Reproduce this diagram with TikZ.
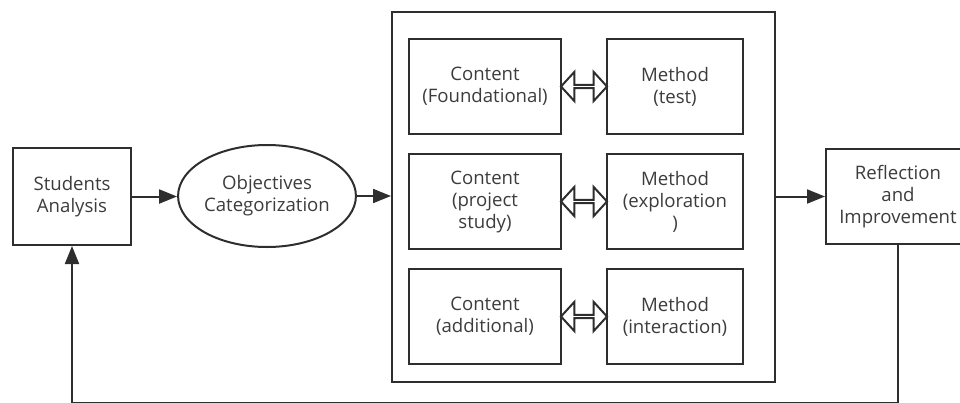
\documentclass[tikz,border=0pt]{standalone}
\usepackage{fontspec}
\setmainfont{Open Sans}
\usetikzlibrary{arrows.meta,shapes,calc,positioning}
\definecolor{ink}{HTML}{2E2E2E}
\definecolor{txt}{HTML}{3C3C3C}

\begin{document}
\begin{tikzpicture}[x=1pt,y=-1pt]
	\tikzstyle{every node}=[font=\fontsize{18.6}{22}\selectfont, text=txt]
	\tikzstyle{block}=[draw=ink, line width=2pt, align=center, inner sep=0pt]
	\tikzstyle{content}=[block, minimum width=152pt, minimum height=95pt]
	\tikzstyle{method}=[block, minimum width=136pt, minimum height=95pt]
	\tikzstyle{goal}=[block, ellipse, minimum width=166pt, minimum height=102pt]
	\tikzstyle{link}=[draw=ink, line width=2pt, -{Triangle[length=18pt,width=14pt]}]
	\tikzstyle{twoway}=[draw=ink, line width=2pt, double arrow, double arrow head extend=8.5pt, double arrow tip angle=95, minimum width=29pt, minimum height=46pt, inner sep=0pt]

	\useasboundingbox (0,0) rectangle (960,402);
	\clip (0,0) rectangle (960,402);

	\node [block, minimum width=118pt, minimum height=97pt] (students) at (72,196.5) {Students\\Analysis};
	\node [goal] (objectives) at (267,196) {Objectives\\Categorization};
	\node [block, minimum width=383pt, minimum height=370pt] (plan) at (583.5,197) {};

	\node [content] (C1) at (485,86.5) {Content\\(Foundational)};
	\node [content] (C2) [below of=C1, node distance=115pt] {Content\\(project\\study)};
	\node [content] (C3) [below of=C2, node distance=115pt] {Content\\(additional)};
	\node [method] (M1) [right of=C1, node distance=190pt] {Method\\(test)};
	\node [method] (M2) [right of=C2, node distance=190pt] {Method\\(exploration\\)};
	\node [method] (M3) [right of=C3, node distance=190pt] {Method\\(interaction)};

	\foreach \i in {1,2,3}
		\node [twoway] (A\i) at ($(C\i.east)!0.5!(M\i.west)$) {};

	\node [block, minimum width=144pt, minimum height=95pt] (reflect) at (898,196.5) {Reflection\\and\\Improvement};

	\draw [link] (students.east) -- (students.east -| objectives.west);
	\draw [link] (objectives.east) -- (objectives.east -| plan.west);
	\draw [link] (plan.east |- reflect) -- (reflect.west);
	\draw [link] (reflect.south) -- ++(0,158.4) -| (students.south);
\end{tikzpicture}
\end{document}
